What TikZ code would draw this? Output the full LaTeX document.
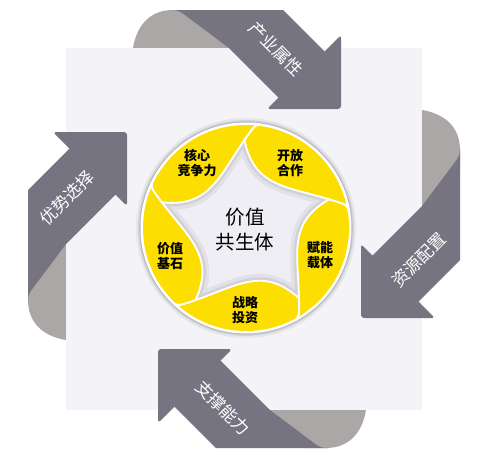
\documentclass[tikz,border=0pt]{standalone}
\usepackage{fontspec}
\newfontfamily\cjk{Noto Sans CJK SC}
\usetikzlibrary{calc}
\definecolor{darkarrow}{RGB}{117,116,128}
\definecolor{curlgray}{RGB}{171,167,167}
\definecolor{bgsq}{RGB}{243,243,248}
\definecolor{petal}{RGB}{252,222,0}
\definecolor{starfill}{RGB}{238,238,244}
\tikzset{
  curl/.style={fill=curlgray, draw=none},
  ribbon/.style={fill=darkarrow, draw=none},
  arrowlabel/.style={text=white, font=\cjk\fontsize{17}{18}\selectfont, inner sep=0pt},
  petallabel/.style={text=black, font=\cjk\bfseries\fontsize{13}{15.5}\selectfont, align=center, inner sep=0pt},
  centerlabel/.style={text=black, font=\cjk\fontsize{19.5}{25}\selectfont, align=center, inner sep=0pt},
  sepline/.style={draw=white, line width=2pt},
  curlpart/.pic={\fill[curl] (0,0) .. controls (4,-24) and (18,-38) .. (40,-38) -- (60,-38) -- (110,0) -- cycle;},
  ribbonpart/.pic={\fill[ribbon] (38,-38) -- (150,-38) -- (191.5,3.5) [rounded corners=3pt] -- (208,-13) -- (208,61) -- (134,61) [sharp corners] -- (145.5,49.5) -- (96,0) -- (52,-33) .. controls (47,-37) and (44,-38) .. (38,-38) -- cycle;}
}
\begin{document}
\begin{tikzpicture}[x=1pt,y=-1pt]
\useasboundingbox (0,0) rectangle (499,466);
\fill[white] (0,0) rectangle (499,466);
% curls behind the square
\pic at (133,48) {curlpart};
\pic[rotate=-90] at (422,110) {curlpart};
\pic[rotate=-180] at (366,410) {curlpart};
\pic[rotate=90] at (66,340) {curlpart};
% background square
\fill[bgsq] (66,48) rectangle (422,410);
% ribbons
\pic at (133,48) {ribbonpart};
\pic[rotate=-90] at (422,110) {ribbonpart};
\pic[rotate=-180] at (366,410) {ribbonpart};
\pic[rotate=90] at (66,340) {ribbonpart};
% arrow labels
\begin{scope}[shift={(133,48)}]
  \node[arrowlabel, rotate=-45] (ltop) at (143,1) {产业属性};
\end{scope}
\begin{scope}[shift={(422,110)}, rotate=-90]
  \node[arrowlabel, rotate=45] (lright) at (150,3) {资源配置};
\end{scope}
\begin{scope}[shift={(366,410)}, rotate=-180]
  \node[arrowlabel, rotate=-45] (lbottom) at (143,2) {支撑能力};
\end{scope}
\begin{scope}[shift={(66,340)}, rotate=90]
  \node[arrowlabel, rotate=45] (lleft) at (142,1) {优势选择};
\end{scope}
% central circle
\begin{scope}[shift={(246,228)}, yscale=-1]
  \fill[black, opacity=0.05] (0,0) circle[radius=110pt];
  \fill[black, opacity=0.08] (0,0) circle[radius=108pt];
  \fill[black, opacity=0.12] (0,0) circle[radius=106.6pt];
  \fill[white] (0,0) circle[radius=105.5pt];
  \fill[petal] (0,0) circle[radius=103pt];
  \foreach \i/\a in {1/91,2/19,3/-53,4/-125,5/-197} {
    \coordinate (T\i) at (\a:88);
    \coordinate (A\i) at (\a-12:42);
    \coordinate (B\i) at (\a-45:58);
  }
  \draw[sepline] (T2) .. controls ($(T2)!-0.4!(B1)$) .. (10:104.5);
  \draw[sepline] (T3) .. controls ($(T3)!-0.4!(B2)$) .. (-62:104.5);
  \draw[sepline] (T4) .. controls ($(T4)!-0.4!(B3)$) .. (-134:104.5);
  \draw[sepline] (T5) .. controls ($(T5)!-0.4!(B4)$) .. (-206:104.5);
  \draw[sepline] (T1) .. controls ($(T1)!-0.4!(B5)$) .. (82:104.5);
  \path[save path=\starp] (T1) .. controls (A1) and (B1) .. (T2)
     .. controls (A2) and (B2) .. (T3)
     .. controls (A3) and (B3) .. (T4)
     .. controls (A4) and (B4) .. (T5)
     .. controls (A5) and (B5) .. (T1) -- cycle;
  \fill[starfill, use path=\starp];
  \begin{scope}
    \clip[use path=\starp];
    \draw[black, opacity=0.05, line width=14pt, use path=\starp];
    \draw[black, opacity=0.07, line width=7pt, use path=\starp];
  \end{scope}
  \draw[white, line width=1.8pt, line join=miter, use path=\starp];
\end{scope}
% texts
\node[petallabel] (p1) at (197,163) {核心\\竞争力};
\node[petallabel] (p2) at (290,163) {开放\\合作};
\node[petallabel] (p3) at (320,255) {赋能\\载体};
\node[petallabel] (p4) at (245,310) {战略\\投资};
\node[petallabel] (p5) at (170,256) {价值\\基石};
\node[centerlabel] (c) at (245,230) {价值\\共生体};
\end{tikzpicture}
\end{document}
